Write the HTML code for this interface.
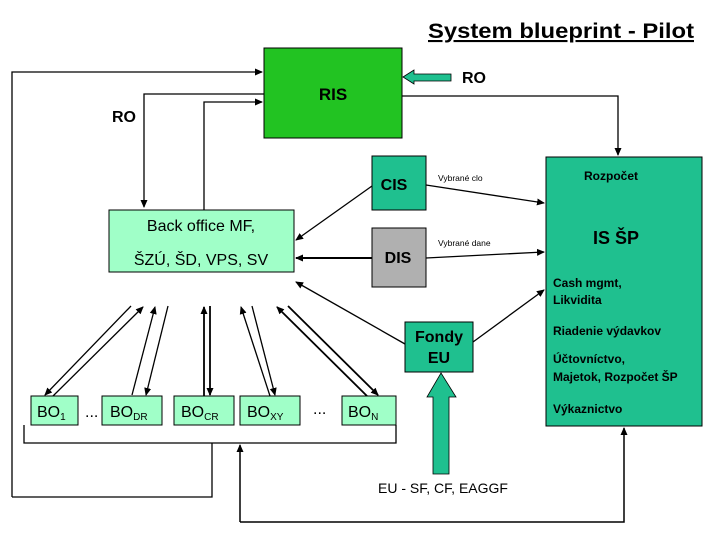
<!DOCTYPE html>
<html><head><meta charset="utf-8"><style>
body{margin:0;background:#fff}
svg{display:block;font-family:"Liberation Sans",sans-serif}
</style></head><body>
<svg width="720" height="540" viewBox="0 0 720 540" xmlns="http://www.w3.org/2000/svg">
<defs>
<marker id="a" markerWidth="8" markerHeight="8" refX="7" refY="4" orient="auto" markerUnits="userSpaceOnUse"><path d="M0,0.5 L8,4 L0,7.5 Z" fill="#000"/></marker>
</defs>
<text x="428" y="38" font-size="21" font-weight="bold" text-decoration="underline" textLength="266" lengthAdjust="spacingAndGlyphs">System blueprint - Pilot</text>
<rect x="264" y="48" width="138" height="90" fill="#22c322" stroke="#000"/>
<text x="333" y="100" font-size="17" font-weight="bold" text-anchor="middle">RIS</text>
<polygon points="403,77 414,70 414,74 451,74 451,81 414,81 414,84" fill="#1fc08f" stroke="#000" stroke-width="0.8"/>
<text x="462" y="83" font-size="16" font-weight="bold">RO</text>
<text x="112" y="122" font-size="16" font-weight="bold">RO</text>
<g stroke="#000" fill="none" stroke-width="1.3">
<polyline points="12,497 12,72 262,72" marker-end="url(#a)"/>
<polyline points="12,497 212,497 212,443"/>
<polyline points="24,425 24,443 396,443 396,425"/>
<polyline points="264,94 144,94 144,207" marker-end="url(#a)"/>
<polyline points="204,210 204,102 262,102" marker-end="url(#a)"/>
<polyline points="402,96 618,96 618,155" marker-end="url(#a)"/>
<line x1="372" y1="186" x2="296" y2="240" marker-end="url(#a)"/>
<line x1="372" y1="258" x2="296" y2="258" marker-end="url(#a)" stroke-width="2"/>
<line x1="426" y1="185" x2="544" y2="203" marker-end="url(#a)"/>
<line x1="426" y1="258" x2="544" y2="252" marker-end="url(#a)"/>
<line x1="405" y1="344" x2="296" y2="282" marker-end="url(#a)"/>
<line x1="473" y1="342" x2="544" y2="290" marker-end="url(#a)"/>
<polyline points="240,522 624,522 624,428" marker-end="url(#a)" stroke-width="1.5"/>
<line x1="240" y1="522" x2="240" y2="445" marker-end="url(#a)" stroke-width="1.5"/>
<line x1="131" y1="306" x2="45" y2="395" marker-end="url(#a)"/>
<line x1="53" y1="396" x2="143" y2="307" marker-end="url(#a)"/>
<line x1="132" y1="395" x2="155" y2="307" marker-end="url(#a)"/>
<line x1="168" y1="306" x2="146" y2="395" marker-end="url(#a)"/>
<line x1="204" y1="396" x2="204" y2="307" marker-end="url(#a)" stroke-width="1.8"/>
<line x1="210" y1="306" x2="210" y2="395" marker-end="url(#a)" stroke-width="1.8"/>
<line x1="270" y1="396" x2="241" y2="307" marker-end="url(#a)"/>
<line x1="252" y1="306" x2="275" y2="395" marker-end="url(#a)"/>
<line x1="288" y1="306" x2="378" y2="395" marker-end="url(#a)" stroke-width="1.8"/>
<line x1="367" y1="396" x2="277" y2="307" marker-end="url(#a)" stroke-width="1.8"/>
</g>
<rect x="109" y="210" width="185" height="62" fill="#a0ffc8" stroke="#000"/>
<text x="201" y="231" font-size="16" text-anchor="middle">Back office MF,</text>
<text x="201" y="265" font-size="16" text-anchor="middle">ŠZÚ, ŠD, VPS, SV</text>
<rect x="372" y="156" width="54" height="54" fill="#1fc08f" stroke="#000"/>
<text x="394" y="190" font-size="16" font-weight="bold" text-anchor="middle">CIS</text>
<rect x="372" y="228" width="54" height="59" fill="#b0b0b0" stroke="#000"/>
<text x="398" y="263" font-size="16" font-weight="bold" text-anchor="middle">DIS</text>
<text x="438" y="181" font-size="8.5">Vybrané clo</text>
<text x="438" y="246" font-size="8.5">Vybrané dane</text>
<rect x="405" y="322" width="68" height="50" fill="#1fc08f" stroke="#000"/>
<text x="439" y="342" font-size="16" font-weight="bold" text-anchor="middle">Fondy</text>
<text x="439" y="363" font-size="16" font-weight="bold" text-anchor="middle">EU</text>
<polygon points="441,373 456,397 449,397 449,474 433,474 433,397 427,397" fill="#1fc08f" stroke="#000" stroke-width="0.8"/>
<text x="443" y="493" font-size="14" text-anchor="middle">EU - SF, CF, EAGGF</text>
<rect x="546" y="157" width="156" height="269" fill="#1fc08f" stroke="#000"/>
<g font-size="12" font-weight="bold">
<text x="584" y="180">Rozpočet</text>
<text x="593" y="244" font-size="18">IS ŠP</text>
<text x="553" y="287">Cash mgmt,</text>
<text x="553" y="304">Likvidita</text>
<text x="553" y="335">Riadenie výdavkov</text>
<text x="553" y="363">Účtovníctvo,</text>
<text x="553" y="381">Majetok, Rozpočet ŠP</text>
<text x="553" y="413">Výkaznictvo</text>
</g>
<g fill="#a0ffc8" stroke="#000">
<rect x="31" y="396" width="47" height="29"/>
<rect x="102" y="396" width="60" height="29"/>
<rect x="174" y="396" width="60" height="29"/>
<rect x="240" y="396" width="60" height="29"/>
<rect x="342" y="396" width="54" height="29"/>
</g>
<g font-size="16">
<text x="37" y="417">BO<tspan font-size="10" dy="3">1</tspan></text>
<text x="85" y="417">...</text>
<text x="110" y="417">BO<tspan font-size="10" dy="3">DR</tspan></text>
<text x="181" y="417">BO<tspan font-size="10" dy="3">CR</tspan></text>
<text x="247" y="417">BO<tspan font-size="10" dy="3">XY</tspan></text>
<text x="313" y="414">...</text>
<text x="348" y="417">BO<tspan font-size="10" dy="3">N</tspan></text>
</g>
</svg>
</body></html>
